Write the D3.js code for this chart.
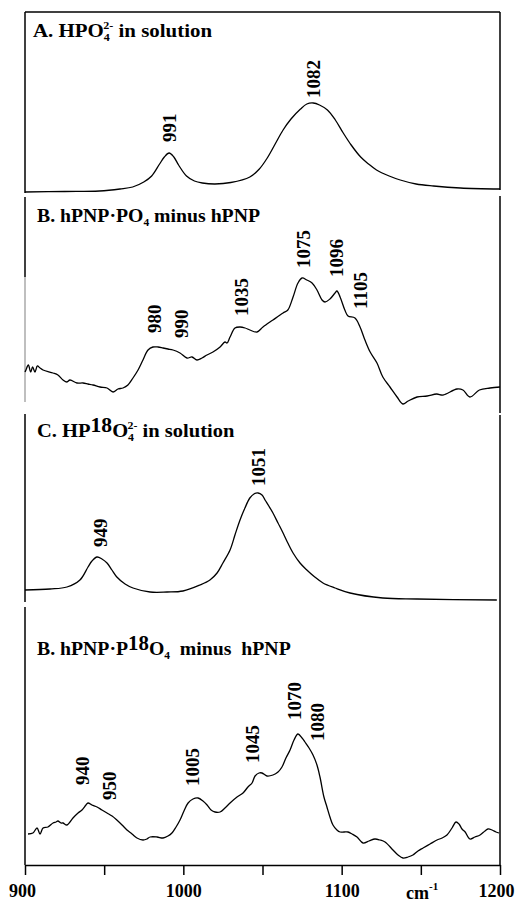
<!DOCTYPE html>
<html><head><meta charset="utf-8">
<script src="https://cdn.jsdelivr.net/npm/d3@7"></script>
<style>
html,body{margin:0;padding:0;background:#fff;}
svg{display:block;}
text{font-family:"Liberation Serif","Times New Roman",serif;font-weight:bold;fill:#000;}
</style></head>
<body>
<svg id="chart" width="516" height="905"></svg>
<script>
// ---------- DATA ----------
const xTicks = [900, 950, 1000, 1050, 1100, 1150, 1200];
const xTickLabels = ["900", "", "1000", "", "1100", "", "1200"];

// Panel A: HPO4 2- in solution
const wnA  = [900,925,947,960,968,975,980,985,988,991,994,997,1002,1007,1012,1020,1030,1042,1048,1053,1058,1063,1068,1074,1078,1082,1086,1091,1096,1101,1106,1112,1117,1122,1130,1137,1147,1158,1175,1200];
const intA = [3,3.5,4,6,8,13,19,31,38,42,38,30,19,14,12,11,12.5,18,26,37,51,65,76,86,91,92,90,85,75,62,50,38,31,25,19,15,11,9,7,6];
const labA = ["991","1082"];
const labAx = [991,1082];
const labAy = [53,97];

// Panel B: hPNP·PO4 minus hPNP
const wnB  = [900,900.6,902.1,903.6,904.8,906.3,907.8,909.5,911.4,917.7,920.8,924,926.5,928.4,932.8,936.6,939.8,943,947.4,951.8,955.6,958.7,961.9,965,968.2,971.4,974.5,977.7,980.8,984,987.2,990.3,993.5,997.9,1002.3,1005.5,1008.6,1011.8,1014.9,1018.7,1023.2,1026.3,1027.6,1029.5,1032.6,1035.8,1039,1042,1046.5,1050.3,1056.6,1063,1066,1069.3,1072.4,1075,1078,1081.3,1084.4,1087.6,1089.5,1092.6,1095.8,1097,1099,1102,1104,1108.4,1111.6,1114.7,1118,1122.3,1126,1130.5,1135,1138.7,1142,1147.6,1154,1160,1164,1172.8,1176.6,1181,1187,1193.7,1200];
const intB = [33,35,40,33,38,33,39,37,35,32,30,25,23,25,22,22,21,20,18,17,13,16,17,20,27,35,45,55,58,58,57,56,55,52,47,48,45,47,50,53,58,63,62,68,77,78,77,75,73,78,85,92,95,108,122,127,125,122,115,105,103,106,112,114,108,95,89,87,78,65,53,42,28,18,8,1,4,8,9,11,10,16,15,8,15,17,18];
const labB = ["980","990","1035","1075","1096","1105"];
const labBx = [982,999,1037,1075.6,1097,1111.6];
const labBy = [72,67,89,137,128,96];

// Panel C: HP18O4 2- in solution
const wnC  = [900,915.8,926.5,934.7,939.8,942.3,945.5,948.6,951.8,954.9,958,963.2,968.2,979,989.7,999.8,1010.5,1016.8,1021.3,1025,1029.5,1032.6,1035.8,1038.9,1042,1044.6,1047.2,1049.7,1051.6,1054,1056.6,1059.8,1063,1066,1069.3,1073.7,1078,1083,1088.2,1095.8,1105.3,1126,1147.6,1198];
const intC = [10,11,13,20,33,39,43,41,37,30,23,16,12,8,8,9,15,20,27,37,50,65,80,92,102,106,107,105,100,94,87,77,67,57,47,37,30,23,17,12,7,2,1,0];
const labC = ["949","1051"];
const labCx = [947.4,1047.2];
const labCy = [53,114];

// Panel D: hPNP·P18O4 minus hPNP
const wnD  = [901.9,905,907.6,909.5,911.4,914.5,917.7,919.6,920.8,922.7,924,926.5,930.3,933.5,936,938.5,939.8,942.3,945.5,948.6,951.8,955,958,961.3,964.4,967.6,970.7,974.5,977,979,983.4,987.2,990.3,992.8,995.4,997.9,1000.4,1003,1006.1,1009.3,1012.4,1015,1017.5,1020,1023.2,1026.3,1029.5,1033.9,1037.7,1040.8,1043.4,1045.3,1047.8,1049.7,1052.8,1056.6,1059.8,1062.3,1064.8,1067.4,1069.9,1072.4,1075,1076.8,1079.4,1081.9,1084.4,1086.3,1088.8,1090.7,1092.6,1094.5,1097,1099,1101.5,1104,1106.6,1109.7,1113.5,1117.3,1121,1124.2,1127.4,1132.4,1135.6,1138.7,1141.9,1145,1148.2,1151.4,1155.8,1160.2,1163.4,1166.5,1169.7,1172.2,1174.1,1176,1178,1181,1184.2,1187.4,1190.5,1192.4,1195,1197.5,1199.4];
const intD = [26,27,32,26,32,33,37,38,39,37,37,35,42,47,50,55,57,55,53,50,47,44,40,35,30,26,22,20,21,23,23,22,24,27,33,40,49,57,61,62,59,55,50,48,48,52,57,63,67,73,77,84,87,87,84,85,88,93,102,110,120,126,122,118,112,105,95,83,63,53,43,35,30,28,28,28,26,23,17,19,21,20,18,10,5,2,3,5,9,12,16,20,22,25,32,38,36,31,28,21,23,25,29,31,30,28,27];
const labD = ["940","950","1005","1045","1070","1080"];
const labDx = [936.6,953.7,1006.1,1043.4,1070.5,1085];
const labDy = [75,60,74,97,140,119];

// ---------- LAYOUT ----------
const svg = d3.select("#chart");
const mLeft = 25, mRight = 500, mTop = 12, axisY = 865;
const x = d3.scaleLinear().domain([900, 1200]).range([mLeft, mRight]);

const panels = [
  {wn: wnA, v: intA, lab: labA, lx: labAx, ly: labAy, base: 195},
  {wn: wnB, v: intB, lab: labB, lx: labBx, ly: labBy, base: 405},
  {wn: wnC, v: intC, lab: labC, lx: labCx, ly: labCy, base: 600},
  {wn: wnD, v: intD, lab: labD, lx: labDx, ly: labDy, base: 860}
];

// frame
const frame = svg.append("g").attr("stroke", "#000").attr("stroke-width", 1.5).attr("fill", "none");
frame.append("line").attr("x1", mLeft).attr("x2", mRight).attr("y1", mTop).attr("y2", mTop);
const leftSegs = [[mTop,193,"#000"],[197,277,"#000"],[277,402,"#aaa"],[414,602,"#000"],[607,axisY,"#000"]];
leftSegs.forEach(s => frame.append("line").attr("x1", mLeft).attr("x2", mLeft).attr("y1", s[0]).attr("y2", s[1]).attr("stroke", s[2]));
const rightSegs = [[mTop,190],[196,413],[415,axisY]];
rightSegs.forEach(s => frame.append("line").attr("x1", mRight).attr("x2", mRight).attr("y1", s[0]).attr("y2", s[1]));

// curves
panels.forEach(p => {
  const y = d3.scaleLinear().domain([0, 100]).range([p.base, p.base - 100]);
  const line = d3.line().x((d, i) => x(p.wn[i])).y((d, i) => y(p.v[i])).curve(d3.curveCatmullRom.alpha(0.5));
  svg.append("path").datum(p.v).attr("d", line).attr("fill", "none").attr("stroke", "#000").attr("stroke-width", 1.3);
  p.lab.forEach((t, i) => {
    const cx = x(p.lx[i]), cy = y(p.ly[i]);
    svg.append("text").attr("transform", `translate(${cx},${cy}) rotate(-90)`)
      .attr("dy", "0.34em").attr("text-anchor", "start").style("font-size", "19px").text(t);
  });
});

// titles
function title(tx, yb, sx, parts) {
  const t = svg.append("text").attr("transform", `translate(${tx},${yb}) scale(${sx},1)`).style("font-size", "19px").attr("xml:space", "preserve").style("white-space", "pre");
  parts.forEach(pt => {
    const s = t.append("tspan").text(pt.t);
    if (pt.dy) s.attr("dy", pt.dy);
    if (pt.dx) s.attr("dx", pt.dx);
    if (pt.fs) s.style("font-size", pt.fs);
  });
}
title(33, 37, 1.1, [{t: "A. HPO"}, {t: "4", dy: 4, fs: "11px"}, {t: "2-", dx: -6, dy: -12, fs: "11px"}, {t: " in solution", dy: 8}]);
title(37, 222, 1.04, [{t: "B. hPNP·PO"}, {t: "4", dy: 4, fs: "11px"}, {t: " minus hPNP", dy: -4}]);
title(37, 437, 1.08, [{t: "C. HP"}, {t: "18", dy: -5, fs: "20px"}, {t: "O", dy: 5}, {t: "4", dy: 4, fs: "11px"}, {t: "2-", dx: -6, dy: -12, fs: "11px"}, {t: " in solution", dy: 8}]);
title(37, 655, 1.04, [{t: "B. hPNP·P"}, {t: "18", dy: -5, fs: "20px"}, {t: "O", dy: 5}, {t: "4", dy: 4, fs: "11px"}, {t: "  minus  hPNP", dy: -4}]);

// bottom axis
const axis = d3.axisBottom(x).tickValues(xTicks).tickSize(10).tickSizeOuter(0).tickPadding(9)
  .tickFormat((d, i) => xTickLabels[i]);
const ag = svg.append("g").attr("transform", `translate(0,${axisY})`).call(axis);
ag.selectAll("path,line").attr("stroke", "#000").attr("stroke-width", 1.5);
ag.selectAll("text").style("font-size", "18px").style("font-family", '"Liberation Serif","Times New Roman",serif').style("font-weight", "bold").attr("fill", "#000");
ag.selectAll(".tick").filter(d => d === 1200).select("text").attr("dx", -4);
ag.selectAll(".tick").filter(d => d === 900).select("text").attr("dx", -3);

// unit label
const u = svg.append("text").attr("x", 406).attr("y", 899).style("font-size", "18px");
u.append("tspan").text("cm");
u.append("tspan").text("-1").attr("dy", -9).style("font-size", "11px");
</script>
</body></html>
